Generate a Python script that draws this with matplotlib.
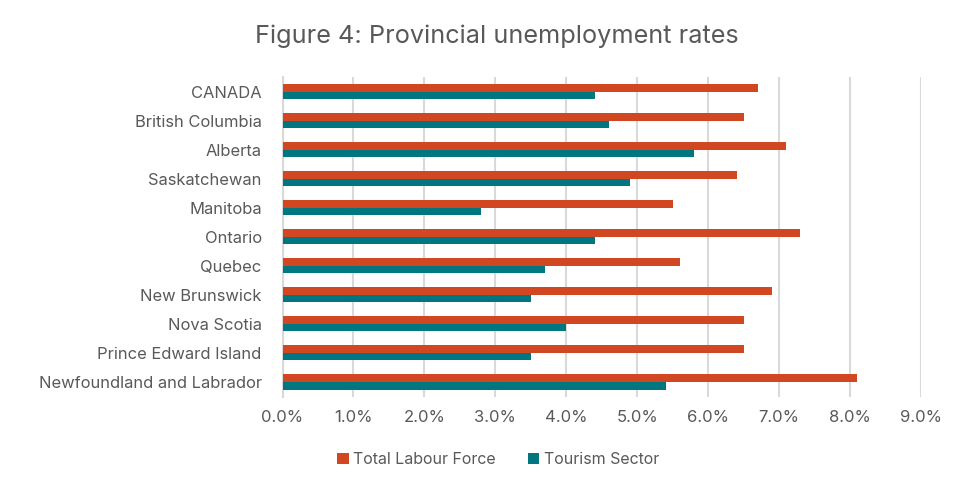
import matplotlib
matplotlib.use("Agg")
import matplotlib.pyplot as plt
from matplotlib.ticker import PercentFormatter
import numpy as np

# values (%)
provinces = ["CANADA", "British Columbia", "Alberta", "Saskatchewan", "Manitoba",
             "Ontario", "Quebec", "New Brunswick", "Nova Scotia",
             "Prince Edward Island", "Newfoundland and Labrador"]
total_labour = [6.7, 6.5, 7.1, 6.4, 5.5, 7.3, 5.6, 6.9, 6.5, 6.5, 8.1]
tourism = [4.4, 4.6, 5.8, 4.9, 2.8, 4.4, 3.7, 3.5, 4.0, 3.5, 5.4]
xticks = [0, 1, 2, 3, 4, 5, 6, 7, 8, 9]

RED = "#D04722"
TEAL = "#007681"
GREY = "#595959"

plt.rcParams['font.family'] = ['Inter', 'DejaVu Sans']

fig = plt.figure(figsize=(9.77, 4.87), dpi=100)
ax = fig.add_axes([0.2892, 0.1858, 0.6535, 0.6561])

y = np.arange(len(provinces))
h = 0.26
ax.barh(y - h / 2, total_labour, height=h, color=RED, label="Total Labour Force", zorder=3)
ax.barh(y + h / 2, tourism, height=h, color=TEAL, label="Tourism Sector", zorder=3)

ax.set_xlim(0, 9)
ax.set_ylim(len(provinces) - 0.5, -0.5)
ax.set_xticks(xticks)
ax.xaxis.set_major_formatter(PercentFormatter(decimals=1))
ax.set_yticks(y)
ax.set_yticklabels(provinces)

ax.grid(axis="x", color="#D9D9D9", linewidth=1.5, zorder=0)
for s in ["top", "right", "bottom"]:
    ax.spines[s].set_visible(False)
ax.spines["left"].set_color("#D9D9D9")
ax.spines["left"].set_linewidth(1.5)

ax.tick_params(axis="x", length=0, pad=10, labelsize=12, labelcolor=GREY)
ax.tick_params(axis="y", length=0, pad=15, labelsize=11.9, labelcolor=GREY)

fig.text(0.508, 0.926, "Figure 4: Provincial unemployment rates", ha="center", va="center",
         fontsize=18.2, color=GREY)

fig.legend(loc="center", bbox_to_anchor=(0.51, 0.057), ncol=2, frameon=False,
           fontsize=11.5, labelcolor=GREY, handlelength=0.7, handleheight=0.7,
           handletextpad=0.3, columnspacing=2.0)

fig.savefig("out.png", dpi=100)
